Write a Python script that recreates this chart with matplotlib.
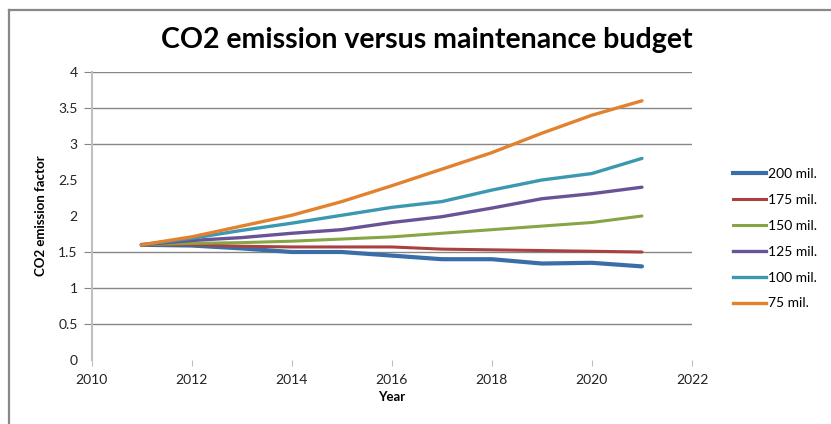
import matplotlib
matplotlib.use("Agg")
import matplotlib.pyplot as plt
from matplotlib.lines import Line2D

years = [2011, 2012, 2013, 2014, 2015, 2016, 2017, 2018, 2019, 2020, 2021]
labels = ["200 mil.", "175 mil.", "150 mil.", "125 mil.", "100 mil.", "75 mil."]
s200 = [1.60, 1.59, 1.55, 1.50, 1.50, 1.45, 1.40, 1.40, 1.34, 1.35, 1.30]
s175 = [1.60, 1.60, 1.58, 1.57, 1.57, 1.57, 1.54, 1.53, 1.52, 1.51, 1.50]
s150 = [1.60, 1.62, 1.63, 1.65, 1.68, 1.71, 1.76, 1.81, 1.86, 1.91, 2.00]
s125 = [1.60, 1.66, 1.70, 1.76, 1.81, 1.91, 1.99, 2.11, 2.24, 2.31, 2.40]
s100 = [1.60, 1.69, 1.80, 1.90, 2.01, 2.12, 2.20, 2.36, 2.50, 2.59, 2.80]
s75 = [1.60, 1.71, 1.86, 2.01, 2.20, 2.42, 2.65, 2.88, 3.15, 3.40, 3.60]
series = [s200, s175, s150, s125, s100, s75]
colors = ["#3A6EA8", "#A9423F", "#86A545", "#6A5296", "#3A98B0", "#E2822E"]
widths = [3.0, 2.2, 2.2, 2.4, 2.4, 2.4]

xticks = [2010, 2012, 2014, 2016, 2018, 2020, 2022]
yticks = [0, 0.5, 1, 1.5, 2, 2.5, 3, 3.5, 4]
ytick_labels = ["0", "0.5", "1", "1.5", "2", "2.5", "3", "3.5", "4"]
grid_vals = [0.5, 1, 1.5, 3, 3.5, 4]

plt.rcParams["font.family"] = ["Lato", "DejaVu Sans"]

W, H = 831, 424
fig = plt.figure(figsize=(W / 100, H / 100), dpi=100)
ax = fig.add_axes([91.5 / W, (H - 360) / H, (692 - 91.5) / W, (360 - 72) / H])

for g in grid_vals:
    ax.axhline(g, color="#868686", lw=1.0, zorder=1)

for vals, c, lw in zip(series, colors, widths):
    ax.plot(years, vals, color=c, lw=lw, solid_capstyle="round",
            solid_joinstyle="round", zorder=3)

ax.set_xlim(2010, 2022)
ax.set_ylim(0, 4)
ax.set_xticks(xticks)
ax.set_xticklabels([str(x) for x in xticks])
ax.set_yticks(yticks)
ax.set_yticklabels(ytick_labels)
ax.tick_params(axis="x", length=4, color="#BFBFBF", labelsize=10, labelcolor="#222222", pad=6)
ax.tick_params(axis="y", length=6, color="#868686", labelsize=10, labelcolor="#222222", pad=4)
for t, v in zip(ax.yaxis.get_major_ticks(), yticks):
    if v not in grid_vals:
        t.tick1line.set_visible(False)

for s in ["top", "right", "bottom"]:
    ax.spines[s].set_visible(False)
ax.spines["left"].set_color("#BFBFBF")
ax.spines["left"].set_linewidth(1.5)

ax.set_xlabel("Year", fontsize=9.5, fontweight="bold", labelpad=4)
ax.set_ylabel("CO2 emission factor", fontsize=9.5, fontweight="bold", labelpad=8)

fig.text(427 / W, 1 - 40 / H, "CO2 emission versus maintenance budget",
         ha="center", va="center", fontsize=20.5, fontweight="bold")

handles = [Line2D([], [], color=c, lw=lw) for c, lw in zip(colors, widths)]
leg = fig.legend(handles, labels, loc="upper left",
                 bbox_to_anchor=(733 / W, 1 - 168 / H), frameon=False,
                 fontsize=10, handlelength=2.4, handletextpad=0.15,
                 labelspacing=1.0, borderaxespad=0, borderpad=0)

# outer chart frame
fig.add_artist(Line2D([9 / W, 9 / W], [0, 1 - 10 / H], transform=fig.transFigure,
                      color="#888888", lw=1.6))
fig.add_artist(Line2D([9 / W, 1], [1 - 10 / H, 1 - 10 / H], transform=fig.transFigure,
                      color="#888888", lw=1.6))

fig.savefig("out.png", dpi=100)
